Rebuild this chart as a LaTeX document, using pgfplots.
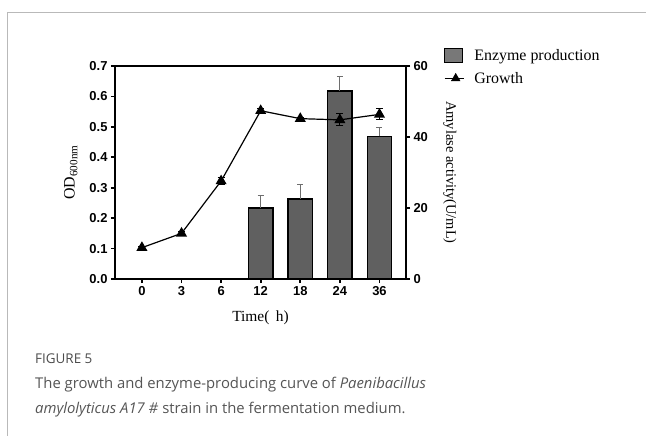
\documentclass[border=0pt]{standalone}
\usepackage{fontspec}
\setmainfont{Liberation Serif}
\newfontfamily\arialb{Liberation Sans}
\newfontfamily\capfont{Open Sans}
\usepackage{pgfplots}
\pgfplotsset{compat=1.18}
\definecolor{bargray}{RGB}{96,96,96}
\definecolor{errgray}{RGB}{110,110,110}
\definecolor{framegray}{RGB}{185,185,185}
\definecolor{capgray}{RGB}{85,85,85}
\definecolor{figgray}{RGB}{75,75,75}
\pgfplotsset{
  barlegend/.style={legend image code/.code={\draw[fill=bargray!85, draw=black, line width=1.1bp] (0bp,-7bp) rectangle (18bp,7bp);}},
  growlegend/.style={legend image code/.code={\draw[black, line width=1.2bp] (0bp,0bp) -- (19bp,0bp); \draw[black, mark=triangle*, mark size=5bp] plot coordinates {(11bp,0bp)};}},
}
\begin{document}
\begin{tikzpicture}
\useasboundingbox (-115bp,-157bp) rectangle (531bp,279bp);
\draw[framegray, line width=1bp] (-107bp,-157bp) -- (-107bp,266bp) -- (531bp,266bp);
% ---------- bars: enzyme production (right axis)
\begin{axis}[
  at={(0,0)}, anchor=south west,
  scale only axis, width=291bp, height=213bp,
  xmin=-0.68, xmax=6.67,
  ymin=0, ymax=60,
  axis x line=none,
  axis y line*=right,
  ytick={0,20,40,60},
  tick align=outside,
  major tick length=4bp,
  axis line style={line width=1.7bp, -},
  every tick/.style={line width=1.7bp, black},
  /pgf/number format/assume math mode=true,
  tick label style={font=\arialb\bfseries\fontsize{13}{13}\selectfont},
  every axis y label/.style={at={(axis description cs:1.151,0.5)}, anchor=center, rotate=-90},
  ylabel={\fontsize{14.5}{14.5}\selectfont Amylase activity(U/mL)},
]
\addplot[ybar, bar width=24.5bp, fill=bargray, draw=black, line width=1.3bp,
  error bars/.cd, y dir=plus, y explicit,
  error bar style={errgray, line width=1.1bp}, error mark options={errgray, line width=1.1bp, mark size=3bp, rotate=90}]
  coordinates {
  (3,20.0) +- (0,3.5)
  (4,22.5) +- (0,4.0)
  (5,53.0) +- (0,4.0)
  (6,40.2) +- (0,2.6)
};
\end{axis}
% ---------- growth (left axis)
\begin{axis}[
  at={(0,0)}, anchor=south west,
  scale only axis, width=291bp, height=213bp,
  xmin=-0.68, xmax=6.67,
  ymin=0, ymax=0.7,
  axis x line*=box,
  axis y line*=left,
  xtick={0,1,2,3,4,5,6},
  xticklabels={0,3,6,12,18,24,36},
  ytick={0,0.1,0.2,0.3,0.4,0.5,0.6,0.7},
  yticklabel style={/pgf/number format/.cd, fixed, fixed zerofill, precision=1},
  xtick pos=lower, ytick pos=left,
  tick align=outside,
  major tick length=4bp,
  axis line style={line width=1.7bp, -},
  every tick/.style={line width=1.7bp, black},
  /pgf/number format/assume math mode=true,
  tick label style={font=\arialb\bfseries\fontsize{13}{13}\selectfont},
  every axis y label/.style={at={(axis description cs:-0.152,0.5)}, anchor=center, rotate=90},
  ylabel={\fontsize{16}{16}\selectfont OD\textsubscript{600nm}},
  every axis x label/.style={at={(axis description cs:0.5,0)}, yshift=-39bp, anchor=center},
  xlabel={\fontsize{15.5}{15.5}\selectfont Time(\,\ h)},
  legend style={at={(axis description cs:1.12,1.097)}, anchor=north west, draw=none, fill=none,
    font=\fontsize{16}{16}\selectfont, row sep=6bp,
    /tikz/every odd column/.append style={column sep=8bp},
    legend cell align=left},
]
\addlegendimage{barlegend}
\addlegendentry{Enzyme production}
\addlegendimage{growlegend}
\addlegendentry{Growth}
\addplot[black, line width=1.2bp, mark=triangle*, mark size=5.2bp,
  error bars/.cd, y dir=both, y explicit,
  error bar style={black, line width=1bp}, error mark options={black, line width=1bp, mark size=3.5bp, rotate=90}]
  coordinates {
  (0,0.103) +- (0,0.004)
  (1,0.150) +- (0,0.006)
  (2,0.322) +- (0,0.010)
  (3,0.553) +- (0,0.006)
  (4,0.527) +- (0,0.005)
  (5,0.523) +- (0,0.020)
  (6,0.541) +- (0,0.018)
};
\end{axis}
% ---------- caption
\node[anchor=base west, inner sep=0pt, text=figgray, font=\capfont\fontsize{13.5}{13.5}\selectfont] at (-80bp,-84bp) {FIGURE 5};
\node[anchor=base west, inner sep=0pt, text=capgray, font=\capfont\fontsize{14.9}{14.9}\selectfont] at (-80bp,-109bp) {The growth and enzyme-producing curve of \textit{Paenibacillus}};
\node[anchor=base west, inner sep=0pt, text=capgray, font=\capfont\fontsize{14.9}{14.9}\selectfont] at (-80bp,-134bp) {\textit{amylolyticus A17 \#} strain in the fermentation medium.};
\end{tikzpicture}
\end{document}
